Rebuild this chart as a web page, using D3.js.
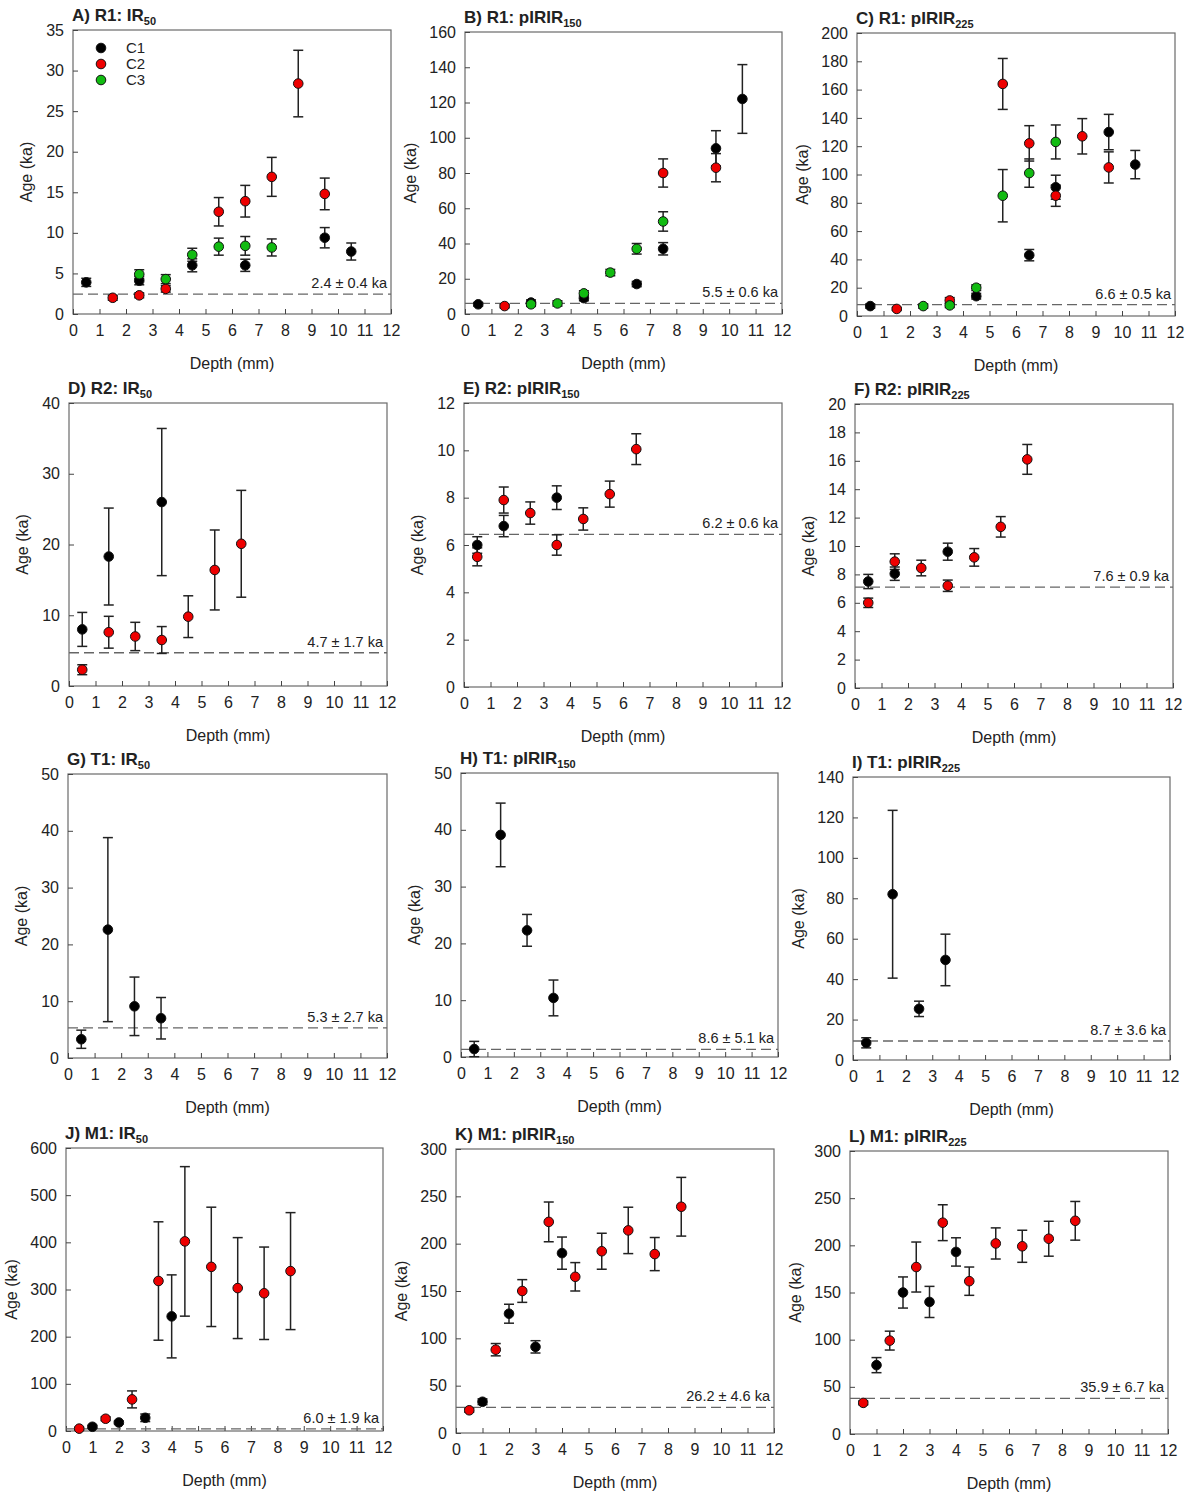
<!DOCTYPE html>
<html>
<head>
<meta charset="utf-8">
<script src="https://cdn.jsdelivr.net/npm/d3@7"></script>
<style>
  body { margin: 0; background: #fff; }
  text { font-family: Arial, "Liberation Sans", sans-serif; fill: #222; }
</style>
</head>
<body>
<script>
// Data: [depth (mm), age (ka), error (ka)]
var A_C1 = [[0.5,3.9,0.5],[2.5,4.1,0.5],[4.5,6.0,0.8],[6.5,6.0,0.75],[9.5,9.4,1.25],[10.5,7.7,1.05]];
var A_C2 = [[1.5,2.0,0.3],[2.5,2.3,0.3],[3.5,3.1,0.4],[5.5,12.6,1.75],[6.5,13.9,1.95],[7.5,16.9,2.4],[8.5,28.4,4.1],[9.5,14.8,1.95]];
var A_C3 = [[2.5,4.9,0.55],[3.5,4.3,0.55],[4.5,7.3,0.8],[5.5,8.3,1.05],[6.5,8.4,1.15],[7.5,8.2,1.05]];

var B_C1 = [[0.5,5.5,1],[2.5,6.5,1.5],[4.5,9,1.5],[6.5,17,1.5],[7.5,37,3.5],[9.5,94,10],[10.5,122,19.5]];
var B_C2 = [[1.5,4.5,1],[7.5,80,8],[9.5,83,8]];
var B_C3 = [[2.5,5.5,1.2],[3.5,6,1.5],[4.5,11.7,1.5],[5.5,23.5,1.8],[6.5,37,3],[7.5,52.5,5.5]];

var C_C1 = [[0.5,7,1.5],[4.5,14,2],[6.5,43,4],[7.5,91,8.5],[9.5,130,12.5],[10.5,107,10]];
var C_C2 = [[1.5,5,1],[3.5,11,2],[5.5,164,18],[6.5,122,12.5],[7.5,85,7.5],[8.5,127,12.5],[9.5,105,11]];
var C_C3 = [[2.5,7,1.5],[3.5,7.5,1.5],[4.5,20,2],[5.5,85,18.5],[6.5,101,10],[7.5,123,12]];

var D_C1 = [[0.5,8.0,2.4],[1.5,18.3,6.85],[3.5,26,10.4]];
var D_C2 = [[0.5,2.3,0.7],[1.5,7.6,2.25],[2.5,7.0,2.0],[3.5,6.5,1.9],[4.5,9.8,2.95],[5.5,16.4,5.65],[6.5,20.1,7.55]];

var E_C1 = [[0.5,6.0,0.35],[1.5,6.8,0.45],[3.5,8.0,0.5]];
var E_C2 = [[0.5,5.5,0.38],[1.5,7.9,0.55],[2.5,7.35,0.47],[3.5,6.0,0.43],[4.5,7.1,0.47],[5.5,8.15,0.55],[6.5,10.05,0.65]];

var F_C1 = [[0.5,7.5,0.5],[1.5,8.05,0.47],[3.5,9.6,0.6]];
var F_C2 = [[0.5,6.0,0.33],[1.5,8.9,0.55],[2.5,8.45,0.55],[3.5,7.2,0.4],[4.5,9.2,0.62],[5.5,11.35,0.72],[6.5,16.1,1.05]];

var G_C1 = [[0.5,3.3,1.6],[1.5,22.6,16.2],[2.5,9.1,5.15],[3.5,7.0,3.65]];
var H_C1 = [[0.5,1.4,1.35],[1.5,39.1,5.6],[2.5,22.3,2.8],[3.5,10.4,3.15]];
var I_C1 = [[0.5,8.5,2.5],[1.5,82,41.5],[2.5,25.3,3.8],[3.5,49.5,12.75]];

var J_C1 = [[1.0,9,3],[2.0,18,3],[3.0,28,8],[4.0,243,88]];
var J_C2 = [[0.5,5,3],[1.5,26,4],[2.5,67,18],[3.5,318,125.5],[4.5,402,158.5],[5.5,348,126.5],[6.5,303,107],[7.5,292,98],[8.5,339,124]];

var K_C1 = [[1.0,33,3],[2.0,126,10],[3.0,91,6.5],[4.0,190,17]];
var K_C2 = [[0.5,24,2],[1.5,88,6.5],[2.5,150,12],[3.5,223,21],[4.5,165,15],[5.5,192,19],[6.5,214,24.5],[7.5,189,17.5],[8.5,239,31]];

var L_C1 = [[1.0,73,8],[2.0,150,16.5],[3.0,140,16.5],[4.0,193,15]];
var L_C2 = [[0.5,33,2],[1.5,99,10],[2.5,177,26.5],[3.5,224,19],[4.5,162,15],[5.5,202,16.5],[6.5,199,17],[7.5,207,18.5],[8.5,226,20.5]];

// Panel labels and axes
var letters  = ["A","B","C","D","E","F","G","H","I","J","K","L"];
var samples  = ["R1","R1","R1","R2","R2","R2","T1","T1","T1","M1","M1","M1"];
var signals  = ["IR","pIRIR","pIRIR"];
var subs     = ["50","150","225"];
var yMax     = [35,160,200,40,12,20,50,50,140,600,300,300];
var yStep    = [5,20,20,10,2,2,10,10,20,100,50,50];
var baseAge  = [2.45,6.0,8.0,4.7,6.45,7.1,5.3,1.35,9.4,4.5,27.1,37.8];
var baseText = ["2.4 ± 0.4 ka","5.5 ± 0.6 ka","6.6 ± 0.5 ka","4.7 ± 1.7 ka","6.2 ± 0.6 ka","7.6 ± 0.9 ka",
                "5.3 ± 2.7 ka","8.6 ± 5.1 ka","8.7 ± 3.6 ka","6.0 ± 1.9 ka","26.2 ± 4.6 ka","35.9 ± 6.7 ka"];
var seriesNames = ["C1","C2","C3"];
var seriesColors = ["#000000","#ee0000","#11bb11"];
var panelSeries = [
  [A_C1,A_C2,A_C3],[B_C1,B_C2,B_C3],[C_C1,C_C2,C_C3],
  [D_C1,D_C2],[E_C1,E_C2],[F_C1,F_C2],
  [G_C1],[H_C1],[I_C1],
  [J_C1,J_C2],[K_C1,K_C2],[L_C1,L_C2]
];

// plot frames [left, top, right, bottom]
var frames = [
  [73,30,391,314],[465,32,782,314],[857,33,1175,316],
  [69,403,387,686],[464,403,782,687],[855,404,1173,688],
  [68,774,387,1058],[461,773,778,1057],[853,777,1170,1060],
  [66,1148,383,1431],[456,1149,774,1433],[850,1151,1168,1434]
];

var svg = d3.select("body").append("svg")
    .attr("width", 1189)
    .attr("height", 1492);

frames.forEach(function(f, i) {
  var w = f[2] - f[0], h = f[3] - f[1];
  var g = svg.append("g").attr("transform", "translate(" + f[0] + "," + f[1] + ")");

  var x = d3.scaleLinear().domain([0, 12]).range([0, w]);
  var y = d3.scaleLinear().domain([0, yMax[i]]).range([h, 0]);

  //frame
  g.append("rect")
    .attr("width", w).attr("height", h)
    .attr("fill", "none").attr("stroke", "#6a6a6a").attr("stroke-width", 1.2);

  //x axis, ticks pointing in
  var xa = g.append("g").attr("transform", "translate(0," + h + ")")
    .call(d3.axisBottom(x).tickValues(d3.range(0, 13)).tickSizeInner(-5).tickSizeOuter(0).tickPadding(11));
  xa.select(".domain").remove();
  xa.selectAll("line").attr("stroke", "#444");
  xa.selectAll("text").attr("font-size", 16).attr("fill", "#222");

  //y axis
  var ya = g.append("g")
    .call(d3.axisLeft(y).tickValues(d3.range(0, yMax[i] + 0.001, yStep[i])).tickSizeInner(-5).tickSizeOuter(0).tickPadding(9));
  ya.select(".domain").remove();
  ya.selectAll("line").attr("stroke", "#444");
  ya.selectAll("text").attr("font-size", 16).attr("fill", "#222");

  //axis titles
  var digits = String(yMax[i]).length;
  g.append("text")
    .attr("transform", "translate(" + (-(24 + 8.5 * digits)) + "," + (h / 2) + ") rotate(-90)")
    .attr("text-anchor", "middle")
    .attr("font-size", 16)
    .text("Age (ka)");
  g.append("text")
    .attr("x", w / 2).attr("y", h + 55)
    .attr("text-anchor", "middle")
    .attr("font-size", 16)
    .text("Depth (mm)");

  //panel title
  var t = g.append("text")
    .attr("x", -1).attr("y", -9)
    .attr("font-size", 17).attr("font-weight", "bold")
    .text(letters[i] + ") " + samples[i] + ": " + signals[i % 3]);
  t.append("tspan").attr("font-size", 11).attr("dy", 4).text(subs[i % 3]);

  //dashed surface age line
  g.append("line")
    .attr("x1", 0).attr("x2", w)
    .attr("y1", y(baseAge[i])).attr("y2", y(baseAge[i]))
    .attr("stroke", "#666").attr("stroke-width", 1.3)
    .attr("stroke-dasharray", "10,5");
  g.append("text")
    .attr("x", w - 4).attr("y", y(baseAge[i]) - 6)
    .attr("text-anchor", "end")
    .attr("font-size", 14.5)
    .text(baseText[i]);

  //error bars
  panelSeries[i].forEach(function(s) {
    var eb = g.append("g").selectAll("g").data(s).enter().append("g")
      .attr("stroke", "#222").attr("stroke-width", 1.5);
    eb.append("line")
      .attr("x1", function(d) { return x(d[0]); }).attr("x2", function(d) { return x(d[0]); })
      .attr("y1", function(d) { return y(d[1] - d[2]); }).attr("y2", function(d) { return y(d[1] + d[2]); });
    eb.append("line")
      .attr("x1", function(d) { return x(d[0]) - 5; }).attr("x2", function(d) { return x(d[0]) + 5; })
      .attr("y1", function(d) { return y(d[1] + d[2]); }).attr("y2", function(d) { return y(d[1] + d[2]); });
    eb.append("line")
      .attr("x1", function(d) { return x(d[0]) - 5; }).attr("x2", function(d) { return x(d[0]) + 5; })
      .attr("y1", function(d) { return y(d[1] - d[2]); }).attr("y2", function(d) { return y(d[1] - d[2]); });
  });

  //points
  panelSeries[i].forEach(function(s, k) {
    g.append("g").selectAll("circle").data(s).enter().append("circle")
      .attr("cx", function(d) { return x(d[0]); })
      .attr("cy", function(d) { return y(d[1]); })
      .attr("r", 4.8)
      .attr("fill", seriesColors[k])
      .attr("stroke", "#111").attr("stroke-width", 1);
  });

  //legend only in the first panel
  if (i == 0) {
    var lg = g.append("g").attr("transform", "translate(28,18)");
    seriesNames.forEach(function(n, k) {
      lg.append("circle").attr("cx", 0).attr("cy", k * 16).attr("r", 4.8)
        .attr("fill", seriesColors[k]).attr("stroke", "#111");
      lg.append("text").attr("x", 25).attr("y", k * 16 + 5).attr("font-size", 15).text(n);
    });
  }
});
</script>
</body>
</html>
